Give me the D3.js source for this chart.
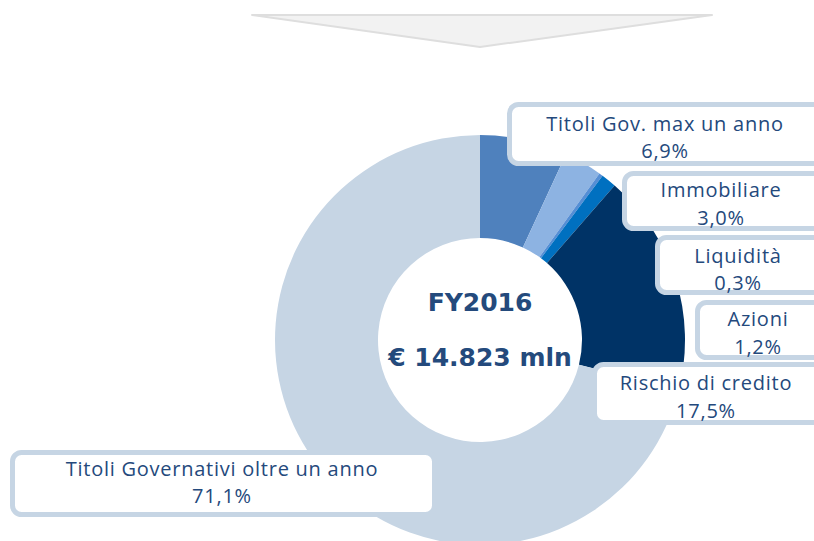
<!DOCTYPE html>
<html>
<head>
<meta charset="utf-8">
<script src="https://cdn.jsdelivr.net/npm/d3@7"></script>
<style>
  html, body { margin: 0; padding: 0; background: #ffffff; }
  svg { display: block; }
</style>
</head>
<body>
<svg id="chart" width="814" height="541"></svg>
<script>
// Portfolio breakdown, FY2016 (percent of total)
const categories = [
  "Titoli Gov. max un anno",
  "Immobiliare",
  "Liquidità",
  "Azioni",
  "Rischio di credito",
  "Titoli Governativi oltre un anno"
];
const shares = [6.9, 3.0, 0.3, 1.2, 17.5, 71.1];
const shareLabels = ["6,9%", "3,0%", "0,3%", "1,2%", "17,5%", "71,1%"];
const centerTitle = "FY2016";
const centerTotal = "€ 14.823 mln";

const colors = ["#4f81bd", "#8db3e2", "#558ed5", "#0070c0", "#003366", "#c6d5e4"];

// Callout boxes: outer edges [x0, y0, x1, y1] and text centre
const callouts = [
  { box: [507, 102, 834, 166], cx: 665, y1: 123, y2: 150 },
  { box: [622, 171, 834, 231], cx: 721, y1: 189, y2: 217 },
  { box: [655, 235, 834, 295], cx: 738, y1: 255, y2: 282 },
  { box: [695, 300, 834, 360], cx: 758, y1: 318, y2: 346 },
  { box: [592, 362, 834, 425], cx: 706, y1: 382, y2: 410 },
  { box: [10, 450, 437, 517], cx: 222, y1: 468, y2: 495 }
];

const svg = d3.select("#chart");
const cx = 480, cy = 340, rOuter = 205, rInner = 102;

// Downward chevron at the top
svg.append("polygon")
  .attr("points", [[252, 15], [712, 15], [480, 47]].map(p => p.join(",")).join(" "))
  .attr("fill", "#f2f2f2")
  .attr("stroke", "#dedede")
  .attr("stroke-width", 2)
  .attr("stroke-linejoin", "round");

// Donut
const pie = d3.pie().sort(null).value(d => d)(shares);
const arc = d3.arc().innerRadius(rInner).outerRadius(rOuter);
const g = svg.append("g").attr("transform", `translate(${cx},${cy})`);
g.selectAll("path")
  .data(pie)
  .join("path")
  .attr("d", arc)
  .attr("fill", (d, i) => colors[i]);

// Centre text
[[centerTitle, -38], [centerTotal, 17]].forEach(([txt, y]) => {
  g.append("text")
    .attr("y", y)
    .attr("text-anchor", "middle")
    .attr("dominant-baseline", "central")
    .attr("font-family", "DejaVu Sans, sans-serif")
    .attr("font-weight", "bold")
    .attr("font-size", 25)
    .attr("fill", "#244a7c")
    .text(txt);
});

// Callouts
const sw = 5;
const lab = svg.append("g");
callouts.forEach((c, i) => {
  const [x0, y0, x1, y1] = c.box;
  lab.append("rect")
    .attr("x", x0 + sw / 2)
    .attr("y", y0 + sw / 2)
    .attr("width", x1 - x0 - sw)
    .attr("height", y1 - y0 - sw)
    .attr("rx", 9)
    .attr("fill", "#ffffff")
    .attr("stroke", "#c6d5e4")
    .attr("stroke-width", sw);
  const t = lab.append("text")
    .attr("text-anchor", "middle")
    .attr("font-family", "Open Sans, sans-serif")
    .attr("font-size", 20)
    .attr("letter-spacing", 0.75)
    .attr("fill", "#24497c");
  t.append("tspan").attr("x", c.cx).attr("y", c.y1).attr("dominant-baseline", "central").text(categories[i]);
  t.append("tspan").attr("x", c.cx).attr("y", c.y2).attr("dominant-baseline", "central").text(shareLabels[i]);
});
</script>
</body>
</html>
